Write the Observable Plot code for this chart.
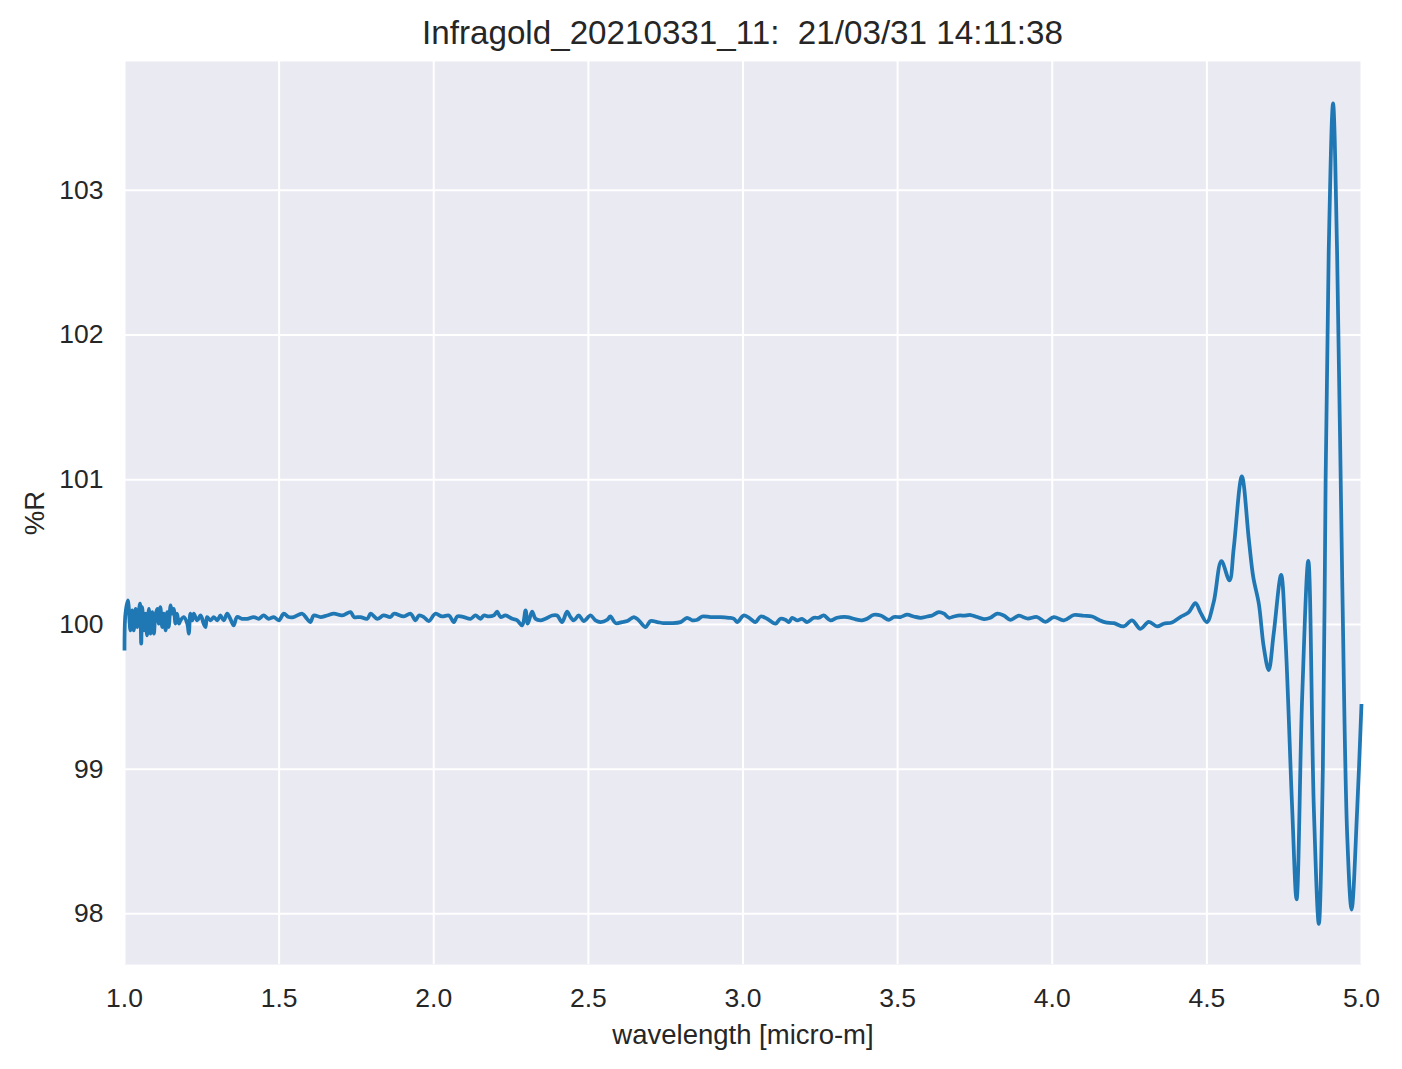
<!DOCTYPE html>
<html>
<head>
<meta charset="utf-8">
<script src="https://cdn.jsdelivr.net/npm/d3@7"></script>
<script src="https://cdn.jsdelivr.net/npm/@observablehq/plot@0.6"></script>
<style>
  html, body { margin: 0; padding: 0; background: #ffffff; }
  #wrap { width: 1402px; height: 1069px; font-family: "Liberation Sans", Arial, sans-serif; }
  #title { height: 61px; line-height: 66px; padding-left: 124px; padding-right: 41px; text-align: center;
           font-size: 33.2px; color: #262626; white-space: pre; overflow: visible; }
</style>
</head>
<body>
<div id="wrap">
  <div id="title"></div>
  <div id="chart"></div>
</div>
<script>
const titleText = "Infragold_20210331_11:  21/03/31 14:11:38";
const xLabel = "wavelength [micro-m]";
const yLabel = "%R";
const xTicks = [1.0, 1.5, 2.0, 2.5, 3.0, 3.5, 4.0, 4.5, 5.0];
const yTicks = [98, 99, 100, 101, 102, 103];

const wavelength = [
  1.000,1.003,1.011,1.019,1.025,1.030,1.036,1.041,1.050,1.054,1.057,1.063,1.068,1.073,1.079,1.084,1.090,1.095,1.100,1.106,
  1.111,1.116,1.122,1.127,1.133,1.138,1.143,1.149,1.154,1.159,1.165,1.170,1.176,1.181,1.192,1.203,1.208,1.213,1.219,1.224,
  1.235,1.246,1.256,1.262,1.267,1.278,1.289,1.300,1.310,1.321,1.332,1.342,1.353,1.364,1.380,1.397,1.418,1.434,1.450,1.466,
  1.483,1.499,1.515,1.531,1.547,1.575,1.590,1.601,1.612,1.634,1.655,1.677,1.704,1.731,1.742,1.763,1.785,1.796,1.817,1.838,
  1.860,1.871,1.903,1.925,1.941,1.952,1.968,1.984,2.005,2.027,2.049,2.065,2.076,2.097,2.119,2.135,2.151,2.162,2.178,2.194,
  2.205,2.216,2.232,2.254,2.270,2.286,2.297,2.304,2.318,2.329,2.345,2.361,2.383,2.399,2.415,2.431,2.442,2.453,2.469,2.485,
  2.507,2.523,2.539,2.561,2.571,2.588,2.609,2.626,2.647,2.663,2.685,2.701,2.723,2.744,2.766,2.798,2.819,2.836,2.852,2.868,
  2.895,2.927,2.954,2.971,2.981,3.003,3.024,3.040,3.057,3.078,3.105,3.121,3.137,3.148,3.159,3.175,3.191,3.207,3.229,3.245,
  3.261,3.283,3.304,3.337,3.358,3.385,3.401,3.423,3.445,3.472,3.488,3.509,3.531,3.552,3.574,3.596,3.612,3.633,3.650,3.666,
  3.682,3.703,3.714,3.736,3.757,3.779,3.800,3.822,3.843,3.865,3.892,3.919,3.951,3.978,4.005,4.037,4.070,4.102,4.129,4.150,
  4.172,4.199,4.231,4.258,4.285,4.312,4.339,4.360,4.387,4.414,4.441,4.463,4.480,4.500,4.522,4.547,4.573,4.587,4.613,4.636,
  4.650,4.668,4.684,4.700,4.716,4.740,4.754,4.776,4.790,4.808,4.828,4.846,4.862,4.875,4.884,4.894,4.908,4.921,4.938,4.954,
  4.968,4.986,5.000
];
const reflectance = [
  99.82,100.07,100.166,99.959,100.097,99.959,100.108,99.982,100.143,99.867,100.12,99.959,100.074,99.924,100.108,99.936,100.085,99.936,100.062,100.108,
  100.005,100.12,99.982,100.074,99.959,100.085,99.982,100.131,100.074,100.108,100.005,100.074,100.005,100.028,100.051,100.005,99.936,100.074,100.028,100.074,
  100.028,100.062,100.005,99.982,100.051,100.028,100.051,100.028,100.062,100.028,100.074,100.039,99.993,100.051,100.039,100.039,100.051,100.039,100.062,100.039,
  100.051,100.028,100.074,100.051,100.051,100.074,100.039,100.016,100.062,100.051,100.062,100.074,100.062,100.085,100.051,100.051,100.039,100.074,100.039,100.062,
  100.051,100.074,100.055,100.074,100.028,100.062,100.051,100.023,100.074,100.055,100.062,100.016,100.055,100.051,100.039,100.062,100.039,100.062,100.055,100.062,
  100.088,100.051,100.062,100.039,100.028,99.993,100.097,100.005,100.088,100.039,100.028,100.039,100.062,100.062,100.016,100.088,100.051,100.028,100.062,100.023,
  100.062,100.028,100.016,100.032,100.055,100.009,100.016,100.023,100.051,100.028,99.982,100.023,100.016,100.009,100.009,100.016,100.046,100.028,100.032,100.055,
  100.051,100.051,100.046,100.039,100.016,100.062,100.039,100.016,100.055,100.039,100.005,100.039,100.032,100.016,100.046,100.028,100.039,100.016,100.046,100.046,
  100.062,100.028,100.046,100.051,100.039,100.028,100.039,100.067,100.062,100.032,100.051,100.051,100.067,100.055,100.046,100.055,100.062,100.085,100.074,100.046,
  100.055,100.062,100.060,100.065,100.051,100.037,100.046,100.074,100.062,100.032,100.060,100.041,100.051,100.018,100.051,100.028,100.065,100.060,100.055,100.032,
  100.014,100.009,99.986,100.028,99.970,100.018,99.986,100.005,100.014,100.051,100.083,100.147,100.08,100.016,100.154,100.437,100.304,100.53,101.023,100.58,
  100.327,100.143,99.843,99.685,99.935,100.342,99.91,98.72,98.10,99.49,100.44,98.72,97.93,99.0,101.0,102.58,103.60,102.58,100.26,98.53,
  98.03,98.72,99.45
];

document.getElementById("title").textContent = titleText;

const data = wavelength.map((w, i) => ({w, r: reflectance[i]}));
const ink = "#262626";

const chart = Plot.plot({
  width: 1402,
  height: 1008,
  marginTop: 0,
  marginBottom: 105,
  marginLeft: 124,
  marginRight: 41,
  style: {fontFamily: "'Liberation Sans', Arial, sans-serif", fontSize: "26.5px", color: ink, background: "transparent"},
  x: {domain: [1, 5], label: null},
  y: {domain: [97.65, 103.89], label: null},
  marks: [
    Plot.frame({fill: "#EAEAF2", stroke: "none"}),
    Plot.gridX(xTicks, {stroke: "#ffffff", strokeOpacity: 1, strokeWidth: 2}),
    Plot.gridY(yTicks, {stroke: "#ffffff", strokeOpacity: 1, strokeWidth: 2}),
    Plot.axisX(xTicks, {tickSize: 0, tickPadding: 24, tickFormat: d3.format(".1f"), fontSize: 26.5, fill: ink, label: null}),
    Plot.axisY(yTicks, {tickSize: 0, tickPadding: 21, tickFormat: d3.format("d"), fontSize: 26.5, fill: ink, label: null}),
    Plot.line(data, {x: "w", y: "r", stroke: "#1f77b4", strokeWidth: 3.75, curve: "catmull-rom", strokeLinejoin: "round", strokeLinecap: "butt"}),
    Plot.text([xLabel], {frameAnchor: "bottom", lineAnchor: "bottom", textAnchor: "middle", dy: 79, fontSize: 27.5, fill: ink}),
    Plot.text([yLabel], {frameAnchor: "left", textAnchor: "middle", dx: -89, rotate: -90, fontSize: 27.5, fill: ink})
  ]
});
document.getElementById("chart").appendChild(chart);
</script>
</body>
</html>
